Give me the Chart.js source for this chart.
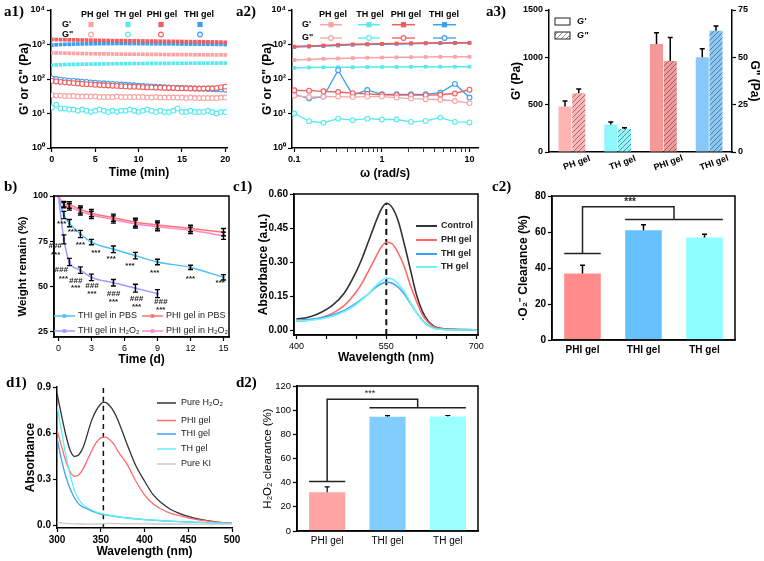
<!DOCTYPE html>
<html>
<head>
<meta charset="utf-8">
<script src="https://cdn.jsdelivr.net/npm/chart.js@4.4.1/dist/chart.umd.min.js"></script>
<style>
  html, body { margin: 0; padding: 0; background: #fff; }
  body { position: relative; width: 764px; height: 561px; overflow: hidden; }
  canvas { position: absolute; }
  .tag { position: absolute; font: bold 15px 'Liberation Serif', 'Times New Roman', serif; color: #000; }
</style>
</head>
<body>
<canvas id="a1" width="250" height="185" style="left:0px;top:0px"></canvas>
<canvas id="a2" width="255" height="185" style="left:250px;top:0px"></canvas>
<canvas id="a3" width="259" height="185" style="left:505px;top:0px"></canvas>
<canvas id="b"  width="250" height="185" style="left:0px;top:185px"></canvas>
<canvas id="c1" width="260" height="185" style="left:250px;top:185px"></canvas>
<canvas id="c2" width="254" height="185" style="left:510px;top:185px"></canvas>
<canvas id="d1" width="255" height="191" style="left:0px;top:370px"></canvas>
<canvas id="d2" width="260" height="191" style="left:250px;top:370px"></canvas>
<div class="tag" style="left:4px;top:3px">a1)</div>
<div class="tag" style="left:236px;top:3px">a2)</div>
<div class="tag" style="left:486px;top:3px">a3)</div>
<div class="tag" style="left:4px;top:178px">b)</div>
<div class="tag" style="left:233px;top:178px">c1)</div>
<div class="tag" style="left:492px;top:178px">c2)</div>
<div class="tag" style="left:6px;top:374px">d1)</div>
<div class="tag" style="left:236px;top:374px">d2)</div>
<script>
const FONT = "'Liberation Sans', Arial, Helvetica, sans-serif";

// ---------- a1) time sweep, G' / G'' in Pa ----------
const a1Time = [0,0.5,1,1.5,2,2.5,3,3.5,4,4.5,5,5.5,6,6.5,7,7.5,8,8.5,9,9.5,10,10.5,11,11.5,12,12.5,13,13.5,14,14.5,15,15.5,16,16.5,17,17.5,18,18.5,19,19.5,20];
const a1PH_G1  = [575,570,565,560,556,552,549,546,543,540,538,536,534,532,530,528,527,525,524,522,521,520,518,517,516,515,514,512,511,510,509,508,507,506,505,504,503,502,501,500,498];
const a1TH_G1  = [252,256,259,262,264,266,268,269,270,271,272,273,274,275,276,277,278,278,279,280,280,281,282,282,283,283,284,284,285,285,286,286,287,287,288,288,288,289,289,290,290];
const a1PHI_G1 = [1400,1390,1385,1375,1365,1360,1350,1345,1340,1330,1325,1320,1310,1305,1300,1295,1290,1285,1280,1275,1270,1265,1260,1255,1250,1245,1240,1235,1230,1225,1220,1215,1210,1205,1200,1195,1190,1185,1180,1170,1160];
const a1THI_G1 = [960,985,1000,1010,1020,1030,1035,1040,1045,1050,1055,1060,1060,1065,1065,1070,1070,1070,1065,1065,1060,1060,1055,1055,1050,1050,1045,1045,1040,1040,1035,1035,1030,1030,1025,1025,1020,1020,1015,1010,1000];
const a1PH_G2  = [34,33,33,32,32,32,31,31,31,31,31,30,30,30,30,31,30,30,30,30,30,30,29,29,30,29,29,29,29,29,29,28,29,28,28,28,28,28,28,29,29];
const a1TH_G2  = [15,18,14,14,13,13,12,13,12,11,12,13,12,11,12,11,12,12,13,12,11,12,13,12,11,12,11,11,12,14,11,11,12,11,11,11,12,11,10,11,11];
const a1PHI_G2 = [88,85,82,80,78,76,74,72,71,70,68,67,66,65,64,63,62,61,60,60,59,58,57,57,56,56,55,55,55,54,54,54,53,53,53,53,54,54,55,58,60];
const a1THI_G2 = [104,100,96,93,90,88,86,84,82,80,78,76,75,73,72,71,69,68,67,66,64,63,62,61,60,59,58,57,56,56,55,54,54,53,52,52,51,51,50,50,49];
const logTicks = [1,10,100,1000,10000];
const logLabels = ['10\u2070','10\u00b9','10\u00b2','10\u00b3','10\u2074'];

// ---------- a2) frequency sweep ----------
const a2Freq = [0.1,0.147,0.215,0.316,0.464,0.681,1,1.47,2.15,3.16,4.64,6.81,10];
const a2PH_G1  = [355,370,385,395,405,415,420,425,430,435,440,440,440];
const a2TH_G1  = [210,215,218,220,220,222,222,224,225,226,226,226,226];
const a2PHI_G1 = [870,900,940,980,1010,1030,1050,1070,1090,1100,1110,1120,1120];
const a2THI_G1 = [840,870,900,930,980,1000,1020,1040,1060,1080,1090,1100,1110];
const a2PH_G2  = [33,30,31,31,30,31,31,29,27,26,25,23,20];
const a2TH_G2  = [10,6,5.4,7.1,6.4,7.1,6.7,6.7,5.7,6.1,7.6,5.7,5.5];
const a2PHI_G2 = [47,46,44,42,39,37,35,34,34,34,35,38,49];
const a2THI_G2 = [36,27,31,180,34,48,36,36,36,36,40,72,29];
const a2XTicks = [0.1,0.2,0.3,0.4,0.5,0.6,0.7,0.8,0.9,1,2,3,4,5,6,7,8,9,10];
const a2XLabeled = [0.1,1,10];

// ---------- a3) moduli bars ----------
const a3Cats  = ['PH gel','TH gel','PHI gel','THI gel'];
const a3G1    = [480,290,1140,1000];
const a3G1Err = [60,28,120,90];
const a3G2    = [31,12.2,48,64];
const a3G2Err = [2.3,0.6,12.5,2.5];

// ---------- b) degradation ----------
const bDays      = [0,0.5,1,2,3,5,7,9,12,15];
const bTHI_PBS   = [100,89.5,85,79,74.5,70.5,67,63.5,60.5,55];
const bPHI_PBS   = [100,95.5,95,92.5,90.5,88,85.5,84,82,80];
const bPHI_H2O2  = [100,95,94,91.5,89.5,87,84.5,83,81,78];
const bTHI_H2O2  = [100,76,63.5,59,55,52,49,46];
const bTHI_PBS_err  = [0,2,2,2,1.5,1.8,1.8,1.5,1.2,1.5];
const bPHI_PBS_err  = [0,1.5,1.8,2,2,2,2.2,2.2,1.8,2];
const bPHI_H2O2_err = [0,1.5,1.8,2,2,2,2.2,2.2,1.8,2];
const bTHI_H2O2_err = [0,2.5,2,1.8,1.8,1.8,2.2,2.2];
const bMarkX   = [0.3,1.27,2.0,3.4,4.8,6.5,8.75,12,14.7,-0.3,-0.25,0.25,0.45,1.57,1.57,3.05,3.05,5,5,7.1,7.1,9.3,9.3];
const bMarkY   = [84.8,80.2,73,68.5,65,61.3,57.4,54.3,52,72.2,67.2,58.9,54.3,53.3,49.3,50.6,46,46,41.7,43.2,38.5,41.3,37];
const bMarkTxt = ['***','***','***','***','***','***','***','***','***','###','***','###','***','###','***','###','***','###','***','###','***','###','***'];

// ---------- c1) superoxide absorbance ----------
const c1Wave    = [400,420,440,460,480,500,510,520,530,540,550,560,570,580,590,600,610,620,630,640,660,680,700];
const c1Control = [0.050,0.058,0.078,0.110,0.165,0.260,0.320,0.390,0.460,0.525,0.559,0.540,0.480,0.380,0.270,0.160,0.085,0.040,0.018,0.009,0.005,0.004,0.003];
const c1PHI     = [0.040,0.045,0.055,0.075,0.110,0.170,0.210,0.260,0.310,0.360,0.388,0.380,0.340,0.280,0.200,0.130,0.070,0.035,0.015,0.008,0.004,0.003,0.002];
const c1THI     = [0.045,0.048,0.055,0.068,0.088,0.120,0.140,0.160,0.185,0.203,0.212,0.208,0.190,0.160,0.120,0.080,0.045,0.022,0.010,0.005,0.003,0.002,0.002];
const c1TH      = [0.042,0.044,0.050,0.062,0.083,0.115,0.137,0.160,0.190,0.215,0.230,0.226,0.205,0.170,0.125,0.080,0.043,0.020,0.009,0.005,0.003,0.002,0.002];
const c1DashX = [550,550];
const c1DashY = [-0.02,0.56];

// ---------- c2) superoxide clearance ----------
const gelCats = ['PHI gel','THI gel','TH gel'];
const c2Vals = [37,61,57];
const c2Err  = [4.5,3,1.7];
const c2Sig  = { low: 48, top: 74, group: 67, mid: 1.5, tx: 0.78, ty: 76.5, text: '***' };

// ---------- d1) H2O2 absorbance ----------
const d1Wave = [300,305,310,315,320,325,330,335,340,345,350,353,355,360,365,370,380,390,400,410,420,430,440,450,460,470,480,490,500];
const d1H2O2 = [0.86,0.72,0.59,0.49,0.45,0.46,0.51,0.60,0.69,0.75,0.79,0.80,0.80,0.78,0.74,0.68,0.53,0.39,0.29,0.20,0.145,0.105,0.080,0.060,0.045,0.035,0.027,0.020,0.015];
const d1PHI  = [0.62,0.52,0.42,0.35,0.32,0.33,0.37,0.43,0.49,0.54,0.57,0.575,0.575,0.56,0.53,0.48,0.40,0.29,0.20,0.14,0.105,0.080,0.065,0.050,0.040,0.032,0.025,0.020,0.015];
const d1THI  = [0.57,0.43,0.32,0.24,0.18,0.14,0.12,0.108,0.095,0.085,0.075,0.072,0.07,0.065,0.061,0.058,0.05,0.045,0.04,0.036,0.032,0.029,0.026,0.024,0.022,0.02,0.018,0.016,0.015];
const d1TH   = [0.78,0.62,0.46,0.33,0.23,0.17,0.135,0.115,0.10,0.088,0.08,0.075,0.072,0.068,0.063,0.058,0.05,0.045,0.04,0.036,0.032,0.029,0.026,0.024,0.022,0.02,0.018,0.016,0.015];
const d1KI   = [0.02,0.018,0.015,0.013,0.012,0.011,0.011,0.01,0.01,0.011,0.012,0.013,0.014,0.015,0.014,0.013,0.012,0.012,0.012,0.011,0.011,0.011,0.01,0.01,0.01,0.01,0.01,0.01,0.01];
const d1DashX = [353,353];
const d1DashY = [-0.015,0.9];

// ---------- d2) H2O2 clearance ----------
const d2Vals = [32,94.5,94.8];
const d2Err  = [4.5,1,0.8];
const d2Sig  = { low: 41, top: 109, group: 102, mid: 1.5, tx: 0.71, ty: 114, text: '***' };

// colours
const C = {
  PH: '#f9a3a3', TH: '#58e9ef', PHI: '#f25c5c', THI: '#3a9ff0',
  barPH: '#ffb4b4', barTH: '#8ff6fb', barPHI: '#f59898', barTHI: '#88c8f8'
};

// ---------- helpers ----------
function pts(xs, ys) { return ys.map((y, i) => ({ x: xs[i], y: y })); }

function axis(o) {
  const s = {
    type: o.type || 'linear',
    position: o.position || 'left',
    offset: !!o.offset,
    grid: { display: true, drawOnChartArea: false, drawTicks: !o.noTicks, tickLength: 4, tickColor: '#000',
            tickWidth: c => (o.minor && c.tick && !o.minor(c.tick.value)) ? 0.8 : 1.2 },
    border: { display: true, color: '#000', width: 1.5 },
    ticks: { display: o.labels !== false, color: '#000', padding: o.tickPad != null ? o.tickPad : 2,
             autoSkip: false, maxRotation: 0, minRotation: 0, includeBounds: false,
             font: { family: FONT, size: o.tickSize || 9, weight: o.tickWeight || 'bold' } },
    title: { display: !!o.title, text: o.title || '', color: '#000',
             padding: o.position === 'bottom' ? { top: 0, bottom: o.tpad || 0 } : { top: o.tpad || 0, bottom: 0 },
             font: { family: FONT, size: o.titleSize || 12, weight: o.titleWeight || 'bold' } },
    afterFit(sc) { if (o.size != null) { if (sc.isHorizontal()) sc.height = o.size; else sc.width = o.size; } }
  };
  if (o.min != null) s.min = o.min;
  if (o.max != null) s.max = o.max;
  if (o.step != null) s.ticks.stepSize = o.step;
  if (o.fmt) s.ticks.callback = o.fmt;
  if (o.at) s.afterBuildTicks = sc => { sc.ticks = o.at.map(v => ({ value: v })); };
  return s;
}

function base(o, extra) {
  return Object.assign({
    responsive: false, animation: false, events: [],
    plugins: Object.assign({ legend: { display: false }, tooltip: { enabled: false } }, extra || {})
  }, o);
}

const framePlugin = {
  id: 'frame',
  afterDraw(chart, args, opts) {
    if (!opts.on) return;
    const a = chart.chartArea, ctx = chart.ctx;
    ctx.save(); ctx.strokeStyle = '#000'; ctx.lineWidth = 1.5;
    ctx.strokeRect(a.left, a.top, a.right - a.left, a.bottom - a.top);
    ctx.restore();
  }
};

const errPlugin = {
  id: 'errbars',
  afterDatasetsDraw(chart) {
    const ctx = chart.ctx;
    chart.data.datasets.forEach((ds, di) => {
      if (!ds.err) return;
      const meta = chart.getDatasetMeta(di);
      const ys = chart.scales[meta.yAxisID];
      ctx.save(); ctx.strokeStyle = ds.errColor || '#000'; ctx.lineWidth = ds.errWidth || 1.5;
      meta.data.forEach((el, i) => {
        const e = ds.err[i]; if (!e) return;
        const raw = ds.data[i];
        const v = (typeof raw === 'object') ? raw.y : raw;
        const top = ys.getPixelForValue(v + e);
        const bot = ds.errBoth ? ys.getPixelForValue(v - e) : el.y;
        const cap = ds.errCap || 3;
        ctx.beginPath();
        ctx.moveTo(el.x, top); ctx.lineTo(el.x, bot);
        ctx.moveTo(el.x - cap, top); ctx.lineTo(el.x + cap, top);
        if (ds.errBoth) { ctx.moveTo(el.x - cap, bot); ctx.lineTo(el.x + cap, bot); }
        ctx.stroke();
      });
      ctx.restore();
    });
  }
};
Chart.register(framePlugin, errPlugin);

// page-coordinate drawing on a canvas placed at (left, top)
function deco(left, top, pageFn, dataFn) {
  return {
    id: 'deco',
    afterDraw(chart) {
      const ctx = chart.ctx;
      if (dataFn) { ctx.save(); dataFn(ctx, chart); ctx.restore(); }
      if (pageFn) { ctx.save(); ctx.translate(-left, -top); pageFn(ctx, chart); ctx.restore(); }
    }
  };
}
function txt(ctx, s, x, y, font, align, color) {
  ctx.font = font; ctx.textAlign = align || 'left'; ctx.textBaseline = 'middle';
  ctx.fillStyle = color || '#000'; ctx.fillText(s, x, y);
}
function seg(ctx, x1, y1, x2, y2, color, w, dash) {
  ctx.save(); ctx.strokeStyle = color; ctx.lineWidth = w || 1.5; ctx.setLineDash(dash || []);
  ctx.beginPath(); ctx.moveTo(x1, y1); ctx.lineTo(x2, y2); ctx.stroke(); ctx.restore();
}
function sqMark(ctx, x, y, r, col) { ctx.fillStyle = col; ctx.fillRect(x - r, y - r, 2 * r, 2 * r); }
function ocMark(ctx, x, y, r, col) {
  ctx.save(); ctx.strokeStyle = col; ctx.lineWidth = 1.1; ctx.fillStyle = '#fff';
  ctx.beginPath(); ctx.arc(x, y, r, 0, Math.PI * 2); ctx.fill(); ctx.stroke(); ctx.restore();
}
function hatch(color) {
  const c = document.createElement('canvas'); c.width = 5; c.height = 5;
  const g = c.getContext('2d');
  g.fillStyle = color; g.fillRect(0, 0, 5, 5);
  g.strokeStyle = 'rgba(70,70,70,0.75)'; g.lineWidth = 0.8;
  g.beginPath(); g.moveTo(0, 5); g.lineTo(5, 0); g.moveTo(-1, 1); g.lineTo(1, -1); g.moveTo(4, 6); g.lineTo(6, 4); g.stroke();
  return g.createPattern(c, 'repeat');
}
function bracket(ctx, chart, s, font) {
  const xs = chart.scales.x, ys = chart.scales.y;
  const meta = chart.getDatasetMeta(0);
  const hw = meta.data[0].width / 2;
  const X = i => xs.getPixelForValue(i), Y = v => ys.getPixelForValue(v);
  ctx.strokeStyle = '#222'; ctx.lineWidth = 1.5;
  ctx.beginPath();
  ctx.moveTo(X(0) - hw, Y(s.low)); ctx.lineTo(X(0) + hw, Y(s.low));
  ctx.moveTo(X(0), Y(s.low)); ctx.lineTo(X(0), Y(s.top));
  ctx.lineTo(X(s.mid), Y(s.top)); ctx.lineTo(X(s.mid), Y(s.group));
  ctx.moveTo(X(1) - hw, Y(s.group)); ctx.lineTo(X(2) + hw, Y(s.group));
  ctx.stroke();
  txt(ctx, s.text, X(s.tx), Y(s.ty), font, 'center', '#222');
}

const logFmt = v => { const i = logTicks.indexOf(v); return i >= 0 ? logLabels[i] : ''; };
const plainFmt = v => String(v);

// ---------- a1 ----------
function sqSet(xs, ys, col, line) {
  return { data: pts(xs, ys), showLine: !!line, borderColor: col, borderWidth: 1.5,
           pointStyle: 'rect', pointRadius: 2.6, pointBackgroundColor: col, pointBorderColor: col, pointBorderWidth: 0 };
}
function ocSet(xs, ys, col, line) {
  return { data: pts(xs, ys), showLine: !!line, borderColor: col, borderWidth: 1.3,
           pointStyle: 'circle', pointRadius: 2.4, pointBackgroundColor: 'rgba(255,255,255,0.9)', pointBorderColor: col, pointBorderWidth: 1.1 };
}
new Chart(document.getElementById('a1'), {
  type: 'scatter',
  data: { datasets: [
    ocSet(a1Time, a1PH_G2, C.PH), ocSet(a1Time, a1TH_G2, C.TH), ocSet(a1Time, a1PHI_G2, C.PHI), ocSet(a1Time, a1THI_G2, C.THI),
    sqSet(a1Time, a1PH_G1, C.PH), sqSet(a1Time, a1TH_G1, C.TH), sqSet(a1Time, a1PHI_G1, C.PHI), sqSet(a1Time, a1THI_G1, C.THI)
  ] },
  options: base({
    layout: { padding: { left: 0, right: 23, top: 10, bottom: 0 } },
    scales: {
      x: axis({ position: 'bottom', min: -0.1, max: 20.2, step: 5, size: 37, title: 'Time (min)', tpad: 5 }),
      y: axis({ type: 'logarithmic', min: 1, max: 10000, at: logTicks, fmt: logFmt, size: 51, title: 'G\' or G" (Pa)', tpad: 17 })
    }
  }),
  plugins: [deco(0, 0, ctx => {
    const f = 'bold 9px ' + FONT;
    const heads = ['PH gel', 'TH gel', 'PHI gel', 'THI gel'];
    const hx = [95, 128, 162, 199], mx = [91, 128, 161, 200];
    const cols = [C.PH, C.TH, C.PHI, C.THI];
    heads.forEach((h, i) => txt(ctx, h, hx[i], 15, f, 'center'));
    txt(ctx, 'G\'', 62, 24.5, f); txt(ctx, 'G"', 62, 34.5, f);
    cols.forEach((c, i) => { sqMark(ctx, mx[i], 24.5, 2.6, c); ocMark(ctx, mx[i], 34.5, 2.4, c); });
  })]
});

// ---------- a2 ----------
new Chart(document.getElementById('a2'), {
  type: 'scatter',
  data: { datasets: [
    ocSet(a2Freq, a2PH_G2, C.PH, true), ocSet(a2Freq, a2TH_G2, C.TH, true), ocSet(a2Freq, a2PHI_G2, C.PHI, true), ocSet(a2Freq, a2THI_G2, C.THI, true),
    sqSet(a2Freq, a2PH_G1, C.PH, true), sqSet(a2Freq, a2TH_G1, C.TH, true), sqSet(a2Freq, a2PHI_G1, C.PHI, true), sqSet(a2Freq, a2THI_G1, C.THI, true)
  ] },
  options: base({
    layout: { padding: { left: 0, right: 27, top: 10, bottom: 0 } },
    scales: {
      x: axis({ type: 'logarithmic', position: 'bottom', min: 0.094, max: 12.5, at: a2XTicks,
                minor: v => a2XLabeled.includes(v),
                fmt: v => a2XLabeled.includes(v) ? String(v) : '', size: 37, title: '\u03c9 (rad/s)', tpad: 4 }),
      y: axis({ type: 'logarithmic', min: 1, max: 10000, at: logTicks, fmt: logFmt, size: 42, title: 'G\' or G" (Pa)', tpad: 10 })
    }
  }),
  plugins: [deco(250, 0, ctx => {
    const f = 'bold 9px ' + FONT;
    const heads = ['PH gel', 'TH gel', 'PHI gel', 'THI gel'];
    const hx = [333, 370, 406, 444];
    const l0 = [320, 358, 392, 433], l1 = [342, 380, 415, 456];
    const cols = [C.PH, C.TH, C.PHI, C.THI];
    heads.forEach((h, i) => txt(ctx, h, hx[i], 15, f, 'center'));
    txt(ctx, 'G\'', 302, 24.7, f); txt(ctx, 'G"', 302, 38, f);
    cols.forEach((c, i) => {
      const m = (l0[i] + l1[i]) / 2;
      seg(ctx, l0[i], 24.7, l1[i], 24.7, c, 1.5); sqMark(ctx, m, 24.7, 2.6, c);
      seg(ctx, l0[i], 38, l1[i], 38, c, 1.3); ocMark(ctx, m, 38, 2.4, c);
    });
  })]
});

// ---------- a3 ----------
new Chart(document.getElementById('a3'), {
  type: 'bar',
  data: { labels: a3Cats, datasets: [
    { data: a3G1, err: a3G1Err, yAxisID: 'y', backgroundColor: [C.barPH, C.barTH, C.barPHI, C.barTHI],
      barPercentage: 0.95, categoryPercentage: 0.6, errCap: 2.5 },
    { data: a3G2, err: a3G2Err, yAxisID: 'y2', backgroundColor: [hatch(C.barPH), hatch(C.barTH), hatch(C.barPHI), hatch(C.barTHI)],
      barPercentage: 0.95, categoryPercentage: 0.6, errCap: 2.5 }
  ] },
  options: base({
    layout: { padding: { left: 0, right: 0, top: 10, bottom: 0 } },
    scales: {
      x: axis({ type: 'category', position: 'bottom', offset: true, labels: false, noTicks: true, size: 33 }),
      y: axis({ min: 0, max: 1500, step: 500, fmt: plainFmt, size: 44, title: 'G\' (Pa)', tpad: 4 }),
      y2: axis({ position: 'right', min: 0, max: 75, step: 25, fmt: plainFmt, size: 32, title: 'G" (Pa)', tpad: 2 })
    }
  }),
  plugins: [deco(505, 0, ctx => {
    const f = 'italic bold 9px ' + FONT;
    ctx.strokeStyle = '#222'; ctx.lineWidth = 1;
    ctx.fillStyle = '#fff'; ctx.fillRect(555, 18, 15, 7); ctx.strokeRect(555, 18, 15, 7);
    ctx.fillStyle = hatch('#ffffff'); ctx.fillRect(555, 32, 15, 7); ctx.strokeRect(555, 32, 15, 7);
    txt(ctx, 'G\'', 577, 21.5, f); txt(ctx, 'G"', 577, 35.5, f);
  }, (ctx, chart) => {
    const xs = chart.scales.x, b = chart.chartArea.bottom;
    a3Cats.forEach((c, i) => {
      ctx.save(); ctx.translate(xs.getPixelForValue(i) + 5, b + 11); ctx.rotate(-20 * Math.PI / 180);
      txt(ctx, c, 0, 0, 'bold 9px ' + FONT, 'center'); ctx.restore();
    });
  })]
});

// ---------- b ----------
function bSet(ys, err, col) {
  return { data: pts(bDays, ys), err: err, errBoth: true, errCap: 2.5, errWidth: 1.4, showLine: true,
           borderColor: col, borderWidth: 1.5, tension: 0.35, cubicInterpolationMode: 'monotone',
           pointStyle: 'rect', pointRadius: 1.8, pointBackgroundColor: col, pointBorderWidth: 0 };
}
new Chart(document.getElementById('b'), {
  type: 'scatter',
  data: { datasets: [
    bSet(bPHI_H2O2, bPHI_H2O2_err, '#ff86c4'), bSet(bPHI_PBS, bPHI_PBS_err, '#ff7373'),
    bSet(bTHI_H2O2, bTHI_H2O2_err, '#9c9cff'), bSet(bTHI_PBS, bTHI_PBS_err, '#4fc0f5')
  ] },
  options: base({
    layout: { padding: { left: 0, right: 21, top: 11, bottom: 0 } },
    scales: {
      x: axis({ position: 'bottom', min: -0.4, max: 15.5, step: 3, size: 33, tickWeight: 'normal', title: 'Time (d)', tpad: 3 }),
      y: axis({ min: 22, max: 100, step: 25, size: 54, title: 'Weight remain (%)', titleSize: 11.5, tpad: 16 })
    }
  }, { frame: { on: true } }),
  plugins: [deco(0, 185, ctx => {
    const f = '9px ' + FONT;
    const rows = [
      ['THI gel in PBS', '#4fc0f5', 54, 75, 78, 316], ['PHI gel in PBS', '#ff7373', 142, 163, 166, 316],
      ['THI gel in H\u2082O\u2082', '#9c9cff', 54, 75, 78, 331], ['PHI gel in H\u2082O\u2082', '#ff86c4', 142, 163, 166, 331]
    ];
    rows.forEach(r => { seg(ctx, r[2], r[5], r[3], r[5], r[1], 1.5); sqMark(ctx, (r[2] + r[3]) / 2, r[5], 1.8, r[1]); txt(ctx, r[0], r[4], r[5], f, 'left', '#222'); });
  }, (ctx, chart) => {
    const xs = chart.scales.x, ys = chart.scales.y;
    bMarkTxt.forEach((t, i) => {
      const f = (t === '###' ? 'italic bold 8px ' : 'bold 8px ') + FONT;
      txt(ctx, t, xs.getPixelForValue(bMarkX[i]), ys.getPixelForValue(bMarkY[i]), f, 'center', '#222');
    });
  })]
});

// ---------- c1 ----------
function curve(xs, ys, col, w) {
  return { data: pts(xs, ys), showLine: true, borderColor: col, borderWidth: w || 1.6, pointRadius: 0,
           tension: 0.4, cubicInterpolationMode: 'monotone' };
}
new Chart(document.getElementById('c1'), {
  type: 'scatter',
  data: { datasets: [
    curve(c1Wave, c1TH, '#6ef6f8'), curve(c1Wave, c1THI, '#3d9ff2'), curve(c1Wave, c1PHI, '#ff6b6b'), curve(c1Wave, c1Control, '#333333'),
    Object.assign(curve(c1DashX, c1DashY, '#111', 2), { borderDash: [6, 4], tension: 0 })
  ] },
  options: base({
    layout: { padding: { left: 0, right: 32, top: 9, bottom: 0 } },
    scales: {
      x: axis({ position: 'bottom', min: 396, max: 703, step: 50, size: 35, tickWeight: 'normal',
                fmt: v => (v === 400 || v === 550 || v === 700) ? String(v) : '', title: 'Wavelength (nm)', tpad: 5 }),
      y: axis({ min: -0.02, max: 0.6, step: 0.15, size: 44, tickSize: 10, fmt: v => v.toFixed(2), title: 'Absorbance (a.u.)', tpad: 6 })
    }
  }, { frame: { on: true } }),
  plugins: [deco(250, 185, ctx => {
    const f = 'bold 9px ' + FONT;
    const rows = [['Control', '#333333', 226], ['PHI gel', '#ff6b6b', 240], ['THI gel', '#3d9ff2', 254], ['TH gel', '#6ef6f8', 267]];
    rows.forEach(r => { seg(ctx, 416, r[2], 437, r[2], r[1], 2); txt(ctx, r[0], 441, r[2], f, 'left', '#222'); });
  })]
});

// ---------- c2 ----------
new Chart(document.getElementById('c2'), {
  type: 'bar',
  data: { labels: gelCats, datasets: [
    { data: c2Vals, err: c2Err, errCap: 2.5, backgroundColor: ['#ff8b8b', '#66c2ff', '#8dffff'], barPercentage: 0.6, categoryPercentage: 1 }
  ] },
  options: base({
    layout: { padding: { left: 0, right: 29, top: 11, bottom: 0 } },
    scales: {
      x: axis({ type: 'category', position: 'bottom', offset: true, noTicks: true, size: 30, tickSize: 10, tickPad: 4 }),
      y: axis({ min: 0, max: 80, step: 20, size: 42, tickSize: 10, title: '\u00b7O\u2082\u207b Clearance (%)', tpad: 6 })
    }
  }, { frame: { on: true } }),
  plugins: [deco(510, 185, null, (ctx, chart) => bracket(ctx, chart, c2Sig, 'bold 10px ' + FONT))]
});

// ---------- d1 ----------
new Chart(document.getElementById('d1'), {
  type: 'scatter',
  data: { datasets: [
    curve(d1Wave, d1KI, '#c8c8c8', 1.3), curve(d1Wave, d1TH, '#5ff0f4', 1.3), curve(d1Wave, d1THI, '#3d9ff2', 1.3),
    curve(d1Wave, d1PHI, '#ff6b6b', 1.3), curve(d1Wave, d1H2O2, '#333333', 1.3),
    Object.assign(curve(d1DashX, d1DashY, '#111', 1.5), { borderDash: [5, 4], tension: 0 })
  ] },
  options: base({
    layout: { padding: { left: 0, right: 23, top: 17, bottom: 0 } },
    scales: {
      x: axis({ position: 'bottom', min: 300, max: 500, step: 50, size: 33, tickSize: 10, title: 'Wavelength (nm)', tpad: 2 }),
      y: axis({ min: -0.015, max: 0.9, step: 0.3, size: 57, tickSize: 10, fmt: v => v.toFixed(1), title: 'Absorbance', tpad: 23 })
    }
  }),
  plugins: [deco(0, 370, ctx => {
    const f = '9px ' + FONT;
    const rows = [['Pure H\u2082O\u2082', '#333333', 403], ['PHI gel', '#ff6b6b', 420.5], ['THI gel', '#3d9ff2', 434],
                  ['TH gel', '#5ff0f4', 449], ['Pure KI', '#c8c8c8', 464]];
    rows.forEach(r => { seg(ctx, 157, r[2], 176, r[2], r[1], 1.5); txt(ctx, r[0], 181, r[2], f, 'left', '#222'); });
  })]
});

// ---------- d2 ----------
new Chart(document.getElementById('d2'), {
  type: 'bar',
  data: { labels: gelCats, datasets: [
    { data: d2Vals, err: d2Err, errCap: 2.5, errWidth: 1.2, backgroundColor: ['#ffa4a4', '#82cdff', '#9cffff'], barPercentage: 0.6, categoryPercentage: 1 }
  ] },
  options: base({
    layout: { padding: { left: 0, right: 32, top: 16, bottom: 0 } },
    scales: {
      x: axis({ type: 'category', position: 'bottom', offset: true, noTicks: true, size: 30, tickSize: 10, tickWeight: 'normal', tickPad: 4 }),
      y: axis({ min: 0, max: 120, step: 20, size: 47, tickSize: 9.5, tickWeight: 'normal',
                title: 'H\u2082O\u2082 clearance (%)', titleSize: 11.5, titleWeight: 'normal', tpad: 11 })
    }
  }, { frame: { on: true } }),
  plugins: [deco(250, 370, null, (ctx, chart) => bracket(ctx, chart, d2Sig, '9px ' + FONT))]
});
</script>
</body>
</html>
